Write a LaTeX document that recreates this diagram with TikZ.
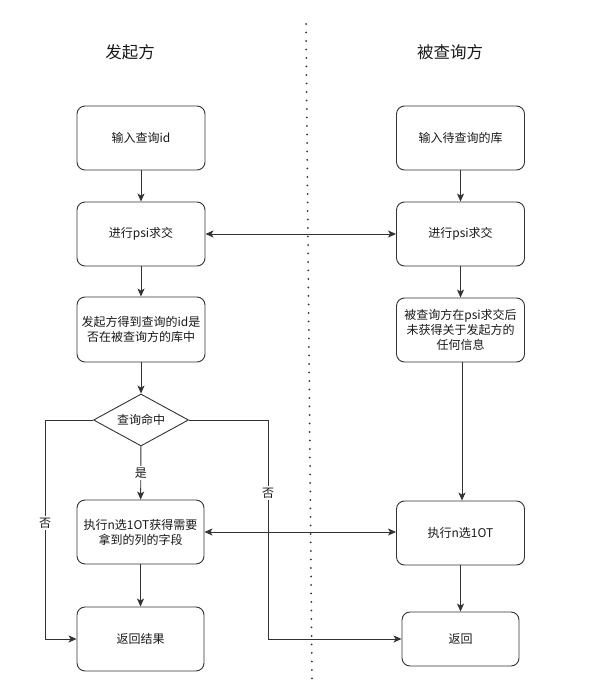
\documentclass[tikz,border=0pt]{standalone}
\usepackage{fontspec}
\setmainfont{Noto Sans CJK SC}
\usetikzlibrary{arrows.meta,shapes.geometric}
\definecolor{ln}{HTML}{333333}
\definecolor{tx}{HTML}{1a1a1a}
\begin{document}
\begin{tikzpicture}[x=1pt,y=-1pt,
  box/.style={draw=ln,line width=0.9pt,rounded corners=8pt,minimum width=128pt,minimum height=64pt,
    align=center,inner sep=0pt,font=\fontsize{12pt}{15pt}\selectfont,text=tx},
  dia/.style={draw=ln,line width=0.9pt,diamond,aspect=1.83,minimum width=95pt,minimum height=52pt,
    inner sep=0pt,font=\fontsize{12pt}{15pt}\selectfont,text=tx},
  ttl/.style={font=\fontsize{16.5pt}{20pt}\selectfont,text=tx},
  arr/.style={draw=ln,line width=0.9pt,-{Stealth[length=8pt,width=7pt,inset=2pt]}},
  darr/.style={draw=ln,line width=0.9pt,{Stealth[length=8pt,width=7pt,inset=2pt]}-{Stealth[length=8pt,width=7pt,inset=2pt]}},
  lbl/.style={fill=white,inner sep=1.5pt,font=\fontsize{12pt}{15pt}\selectfont,text=tx}
]
\useasboundingbox (0,0) rectangle (590,700);
\fill[white] (0,0) rectangle (590,700);
% divider
\coordinate (dt) at (306,24);
\coordinate (db) at (312,681);
\draw[ln,line width=2pt,line cap=round,dash pattern=on 0pt off 8.5pt] (dt) -- (db);
% titles
\node[ttl] (t1) at (130,52) {发起方};
\node[ttl] (t2) at (450,52) {被查询方};
% left column
\node[box] (L1) at (141,138) {输入查询id};
\node[box] (L2) at (141,234) {进行psi求交};
\node[box,minimum height=65pt] (L3) at (141,329.5) {发起方得到查询的id是\\否在被查询方的库中};
\node[dia] (D) at (141,420) {查询命中};
\node[box,minimum width=127pt] (L4) at (140.5,532) {执行n选1OT获得需要\\拿到的列的字段};
\node[box,minimum width=127pt] (L5) at (140.5,639) {返回结果};
% right column
\node[box] (R1) at (460.5,138) {输入待查询的库};
\node[box] (R2) at (460.5,234) {进行psi求交};
\node[box] (R3) at (460.5,330) {被查询方在psi求交后\\未获得关于发起方的\\任何信息};
\node[box] (R4) at (460.5,533) {执行n选1OT};
\node[box,minimum width=117pt,minimum height=54pt] (R5) at (460.5,639) {返回};
% vertical arrows
\draw[arr] (L1) -- (L2);
\draw[arr] (L2) -- (L3);
\draw[arr] (L3) -- (D);
\draw[arr] (D) -- node[lbl,pos=0.5] (yes) {是} (L4);
\draw[arr] (L4) -- (L5);
\draw[arr] (R1) -- (R2);
\draw[arr] (R2) -- (R3);
\coordinate (r3b) at ([xshift=1.5pt]R3.south);
\coordinate (r4t) at ([xshift=1.5pt]R4.north);
\draw[arr] (r3b) -- (r4t);
\draw[arr] (R4) -- (R5);
% horizontal
\draw[darr] (L2) -- (R2);
\draw[darr] (L4.east) -- (L4.east -| R4.west);
% no branches
\coordinate (nl) at (45,420);
\coordinate (nr) at (268,420);
\draw[arr] (D.west) -- (nl) -- (nl |- L5.west) -- (L5.west);
\draw[arr] (D.east) -- (nr) -- (nr |- R5.west) -- (R5.west);
\node[lbl] (no1) at (45,523) {否};
\node[lbl] (no2) at (268,493) {否};
\end{tikzpicture}
\end{document}
